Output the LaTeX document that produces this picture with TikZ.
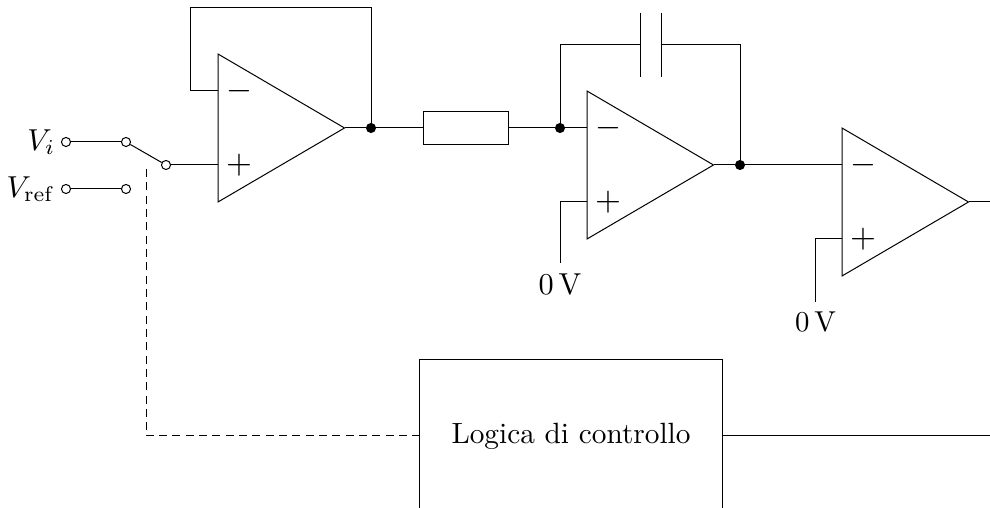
\documentclass[tikz,border=0pt]{standalone}
\tikzset{
  wire/.style={line width=.33pt},
  ctrl/.style={wire, dash pattern=on 2.6pt off 1.8pt},
  pin/.style={circle, draw, line width=.33pt, fill=white, inner sep=0pt, minimum size=3pt},
  junction/.style={circle, draw, fill=black, inner sep=0pt, minimum size=2.9pt},
  res/.style={draw, line width=.33pt, inner sep=0pt, minimum width=28.05pt, minimum height=10.9pt},
  logic/.style={draw, line width=.33pt, inner sep=0pt, minimum width=100pt, minimum height=50.8pt},
  sign/.style={scale=1.1}
}
\begin{document}
\begin{tikzpicture}[x=.33pt, y=-.33pt]
\clip (0,0) rectangle (990,508);
% op amps
\foreach \n/\x/\y in {a1/218/128, a2/587/165, a3/842/202} {
  \draw[wire] (\x,\y-74) -- (\x,\y+74) -- (\x+126.5,\y) -- cycle;
  \coordinate (\n out) at (\x+126.5,\y);
  \coordinate (\n neg) at (\x,\y-37);
  \coordinate (\n pos) at (\x,\y+37);
  \node[sign] (\n m) at (\x+21,\y-37) {$-$};
  \node[sign] (\n p) at (\x+21,\y+37) {$+$};
}
% switch
\node[pin] (vi) at (66,142) {};
\node[pin] (vr) at (66,189) {};
\node[pin] (s1) at (126,142) {};
\node[pin] (s2) at (126,189) {};
\node[pin] (s3) at (166,165) {};
\node[left, inner sep=1.7pt] (vilab) at (vi.west) {$V_i$};
\node[left, inner sep=1.7pt] (vrlab) at (vr.west) {$V_{\mathrm{ref}}$};
\draw[wire] (vi) -- (s1);
\draw[wire] (vr) -- (s2);
\draw[wire] (s1) -- (s3);
\draw[wire] (s3) -- (a1pos);
% first stage
\node[junction] (j1) at (371,128) {};
\coordinate (fb) at (190,8);
\draw[wire] (a1neg) -| (fb) -| (j1);
\draw[wire] (a1out) -- (j1);
\node[res] (r1) at (465.5,128) {};
\node[junction] (j2) at (560,128) {};
\draw[wire] (j1) -- (r1);
\draw[wire] (r1) -- (j2);
\draw[wire] (j2) -- (a2neg);
% integrator
\node[junction] (j3) at (740,165) {};
\coordinate (c1) at (640,45);
\coordinate (c2) at (661,45);
\draw[wire] ([yshift=10.56pt]c1) -- ([yshift=-10.56pt]c1);
\draw[wire] ([yshift=10.56pt]c2) -- ([yshift=-10.56pt]c2);
\draw[wire] (j2) |- (c1);
\draw[wire] (j3) |- (c2);
\draw[wire] (a2out) -- (j3);
\draw[wire] (j3) -- (a3neg);
\node (gnd1) at (560,284) {0\,V};
\node[scale=.95] (gnd2) at (815.5,322) {0\,V};
\draw[wire] (a2pos) -| (gnd1.north);
\draw[wire] (a3pos) -| (gnd2.north);
\coordinate (e1) at (990,202);
\draw[wire] (a3out) -- (e1);
% control
\node[logic] (ctl) at (571,436) {\scalebox{.967}{Logica di controllo}};
\coordinate (sw) at (146,169);
\coordinate (e2) at (990,436);
\draw[ctrl] (sw) |- (ctl);
\draw[wire] (ctl) -- (e2);
\end{tikzpicture}
\end{document}
